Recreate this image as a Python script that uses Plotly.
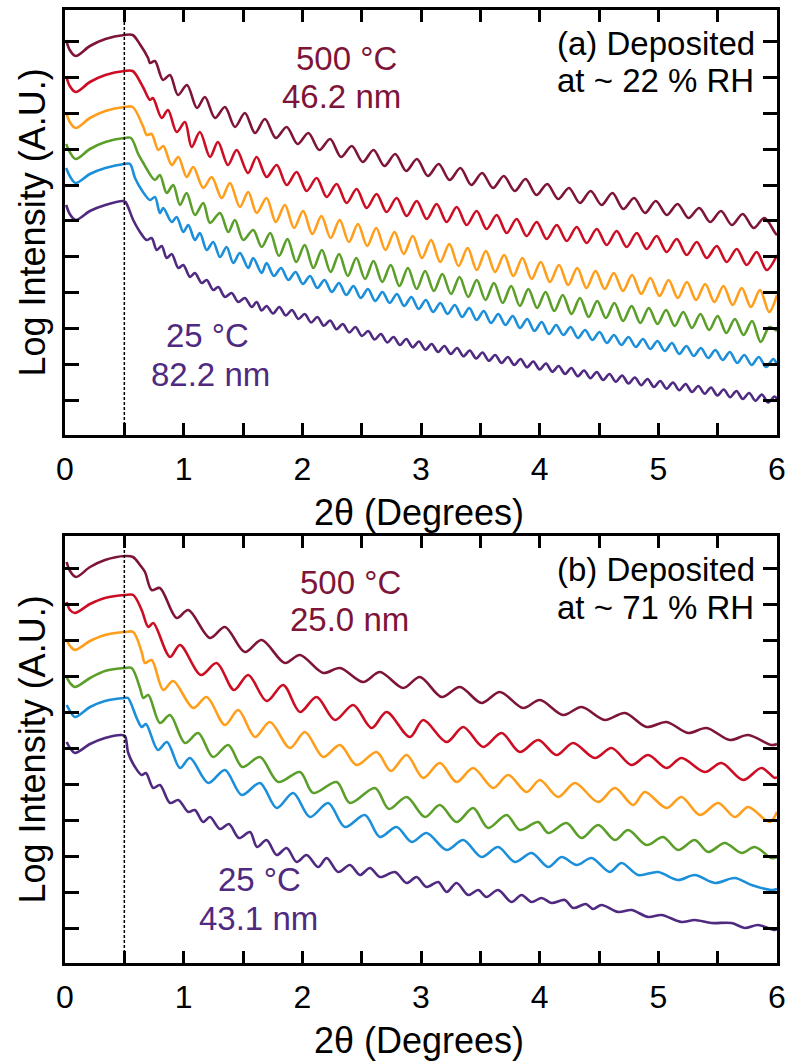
import plotly.graph_objects as go

# ---------------- colours ----------------
C_500 = "#7e1538"
C_400 = "#cc0d23"
C_300 = "#ff9e1b"
C_200 = "#5b9f2a"
C_100 = "#1b8fd9"
C_25 = "#4f2a80"
CURVE_COLORS = [C_500, C_400, C_300, C_200, C_100, C_25]

X_TICKS = [0, 1, 2, 3, 4, 5, 6]

# ---------------- panel (a): deposited at ~22 % RH ----------------
A_500 = [(0.01, 395), (0.04, 385), (0.09, 379), (0.21, 389), (0.34, 396), (0.50, 400), (0.57, 400), (0.63, 391),
         (0.70, 377), (0.716, 372), (0.758, 374), (0.826, 355), (0.885, 360), (0.952, 340), (1.028, 350),
         (1.112, 327), (1.179, 338), (1.264, 317), (1.348, 328), (1.432, 308), (1.516, 322), (1.601, 302),
         (1.685, 316), (1.777, 297), (1.868, 308), (1.960, 291), (2.051, 302), (2.143, 285), (2.234, 296),
         (2.326, 278), (2.417, 289), (2.509, 273), (2.600, 285), (2.692, 269), (2.783, 281), (2.875, 264),
         (2.966, 276), (3.058, 259), (3.149, 271), (3.241, 255), (3.332, 267), (3.424, 250), (3.515, 262),
         (3.607, 247), (3.698, 259), (3.790, 244), (3.881, 256), (3.973, 240), (4.064, 251), (4.156, 236),
         (4.247, 247), (4.339, 232), (4.430, 244), (4.522, 230), (4.613, 242), (4.705, 226), (4.796, 237),
         (4.888, 222), (4.979, 234), (5.071, 220), (5.162, 231), (5.254, 217), (5.345, 227), (5.437, 213),
         (5.528, 224), (5.620, 210), (5.711, 221), (5.803, 207), (5.894, 217), (5.985, 202), (6.0, 200)]

A_400 = [(0.01, 359), (0.04, 349), (0.09, 343), (0.21, 353), (0.34, 360), (0.50, 364), (0.57, 364), (0.657, 348),
         (0.716, 335), (0.741, 337), (0.815, 317), (0.868, 325), (0.941, 303), (1.011, 313), (1.067, 288),
         (1.137, 303), (1.222, 278), (1.289, 293), (1.373, 270), (1.447, 285), (1.542, 262), (1.615, 278),
         (1.699, 258), (1.784, 270), (1.868, 250), (1.952, 263), (2.036, 244), (2.121, 257), (2.205, 238),
         (2.289, 251), (2.373, 232), (2.458, 246), (2.542, 227), (2.626, 241), (2.710, 223), (2.795, 237),
         (2.879, 219), (2.964, 234), (3.048, 216), (3.132, 231), (3.216, 213), (3.301, 228), (3.385, 210),
         (3.469, 224), (3.553, 206), (3.638, 220), (3.722, 202), (3.806, 216), (3.890, 199), (3.975, 213),
         (4.059, 196), (4.144, 210), (4.228, 194), (4.312, 208), (4.396, 192), (4.481, 206), (4.565, 190),
         (4.649, 204), (4.733, 188), (4.818, 202), (4.902, 186), (4.986, 199), (5.070, 183), (5.155, 196),
         (5.239, 180), (5.324, 193), (5.408, 177), (5.492, 189), (5.576, 173), (5.661, 186), (5.745, 170),
         (5.829, 183), (5.913, 165), (6.0, 180)]

A_300 = [(0.01, 323), (0.04, 313), (0.09, 307), (0.21, 317), (0.34, 324), (0.50, 328), (0.57, 328), (0.660, 308),
         (0.688, 300), (0.730, 301), (0.786, 285), (0.828, 289), (0.899, 270), (0.955, 278), (1.025, 258),
         (1.081, 268), (1.165, 247), (1.236, 258), (1.320, 237), (1.390, 252), (1.474, 228), (1.544, 243),
         (1.615, 222), (1.699, 237), (1.776, 213), (1.853, 230), (1.930, 207), (2.007, 224), (2.084, 201),
         (2.161, 219), (2.238, 197), (2.315, 215), (2.392, 193), (2.469, 211), (2.546, 189), (2.623, 207),
         (2.700, 185), (2.777, 203), (2.854, 181), (2.931, 199), (3.008, 177), (3.085, 195), (3.162, 173),
         (3.239, 191), (3.316, 169), (3.393, 187), (3.470, 165), (3.547, 184), (3.624, 163), (3.701, 180),
         (3.778, 159), (3.855, 177), (3.932, 156), (4.009, 173), (4.086, 153), (4.163, 170), (4.240, 150),
         (4.317, 167), (4.394, 147), (4.471, 164), (4.548, 146), (4.625, 162), (4.702, 144), (4.779, 160),
         (4.856, 141), (4.933, 157), (5.010, 139), (5.087, 155), (5.164, 137), (5.241, 153), (5.318, 135),
         (5.395, 151), (5.472, 133), (5.549, 149), (5.626, 130), (5.703, 147), (5.780, 128), (5.857, 145),
         (5.934, 123), (6.0, 140)]

A_200 = [(0.01, 291), (0.04, 283), (0.09, 276), (0.21, 286), (0.34, 293), (0.50, 297), (0.556, 297), (0.617, 281),
         (0.660, 272), (0.758, 255), (0.800, 260), (0.857, 242), (0.912, 250), (0.969, 230), (1.025, 242),
         (1.095, 220), (1.165, 232), (1.222, 212), (1.306, 222), (1.376, 203), (1.432, 215), (1.502, 195),
         (1.586, 205), (1.657, 188), (1.730, 202), (1.803, 179), (1.875, 196), (1.948, 173), (2.020, 190),
         (2.093, 167), (2.165, 185), (2.238, 163), (2.310, 181), (2.383, 159), (2.455, 177), (2.528, 156),
         (2.600, 174), (2.673, 153), (2.745, 170), (2.818, 149), (2.890, 167), (2.963, 146), (3.035, 164),
         (3.108, 144), (3.180, 161), (3.253, 141), (3.325, 158), (3.398, 138), (3.470, 155), (3.543, 135),
         (3.615, 152), (3.688, 132), (3.760, 149), (3.833, 129), (3.905, 146), (3.978, 127), (4.050, 143),
         (4.123, 124), (4.195, 140), (4.268, 121), (4.340, 137), (4.413, 118), (4.485, 134), (4.558, 117),
         (4.630, 132), (4.703, 114), (4.775, 129), (4.848, 112), (4.920, 127), (4.993, 111), (5.065, 125),
         (5.138, 109), (5.210, 123), (5.283, 107), (5.355, 121), (5.428, 105), (5.500, 119), (5.573, 102),
         (5.645, 116), (5.718, 100), (5.790, 114), (5.863, 93), (5.935, 108), (6.0, 104)]

A_100 = [(0.01, 267), (0.04, 259), (0.09, 252), (0.21, 261), (0.34, 267), (0.50, 271), (0.548, 271), (0.590, 257),
         (0.646, 245), (0.716, 235), (0.758, 238), (0.800, 222), (0.828, 227), (0.899, 213), (0.941, 218),
         (0.997, 203), (1.039, 210), (1.095, 195), (1.137, 202), (1.194, 185), (1.249, 193), (1.306, 178),
         (1.362, 188), (1.418, 172), (1.474, 182), (1.544, 167), (1.586, 177), (1.657, 162), (1.699, 172),
         (1.760, 159), (1.821, 167), (1.882, 155), (1.943, 163), (2.004, 151), (2.065, 159), (2.126, 147),
         (2.187, 155), (2.248, 143), (2.309, 152), (2.370, 140), (2.431, 149), (2.492, 137), (2.553, 146),
         (2.614, 134), (2.675, 143), (2.736, 132), (2.797, 141), (2.858, 129), (2.919, 138), (2.980, 126),
         (3.041, 135), (3.102, 123), (3.163, 132), (3.224, 121), (3.285, 130), (3.346, 118), (3.407, 127),
         (3.468, 115), (3.529, 124), (3.590, 112), (3.651, 121), (3.712, 110), (3.773, 119), (3.834, 107),
         (3.895, 116), (3.956, 104), (4.017, 113), (4.078, 101), (4.139, 110), (4.200, 100), (4.261, 108),
         (4.322, 97), (4.383, 105), (4.444, 95), (4.505, 103), (4.566, 92), (4.627, 100), (4.688, 90),
         (4.749, 98), (4.810, 88), (4.871, 96), (4.932, 86), (4.993, 94), (5.054, 84), (5.115, 92),
         (5.176, 81), (5.237, 89), (5.298, 79), (5.359, 87), (5.420, 77), (5.481, 85), (5.542, 75),
         (5.603, 83), (5.664, 72), (5.725, 80), (5.786, 70), (5.847, 78), (5.908, 68), (5.969, 76), (6.0, 70)]

A_25 = [(0.01, 230), (0.04, 221), (0.09, 215), (0.21, 224), (0.34, 230), (0.49, 234), (0.51, 233), (0.575, 215),
        (0.632, 203), (0.688, 195), (0.730, 197), (0.773, 185), (0.815, 189), (0.857, 177), (0.899, 181),
        (0.955, 167), (0.997, 170), (1.053, 158), (1.095, 162), (1.152, 152), (1.194, 155), (1.249, 145),
        (1.292, 148), (1.348, 138), (1.404, 142), (1.460, 133), (1.516, 137), (1.573, 128), (1.615, 133),
        (1.657, 124.5), (1.699, 129), (1.753, 121.5), (1.806, 128), (1.860, 119.5), (1.913, 125), (1.967, 116),
        (2.020, 121), (2.074, 112.5), (2.127, 118), (2.181, 109.3), (2.234, 114.5), (2.288, 105.8),
        (2.341, 111), (2.395, 102.5), (2.448, 108), (2.502, 99), (2.555, 104), (2.609, 95.5), (2.662, 101),
        (2.716, 92.5), (2.769, 98), (2.823, 90), (2.876, 96), (2.930, 87.8), (2.983, 93.5), (3.037, 85.3),
        (3.090, 91), (3.144, 83), (3.197, 89), (3.251, 81), (3.304, 87), (3.358, 78.8), (3.411, 84.5),
        (3.465, 76.5), (3.518, 82.5), (3.572, 74.3), (3.625, 80), (3.679, 72), (3.732, 78), (3.786, 70),
        (3.839, 76), (3.893, 67.8), (3.946, 73.5), (4.000, 65.5), (4.053, 71.5), (4.107, 63.3), (4.160, 69),
        (4.214, 61), (4.267, 67), (4.321, 58.8), (4.374, 64.5), (4.428, 56.8), (4.481, 63), (4.535, 55),
        (4.588, 61), (4.642, 53.3), (4.695, 59.5), (4.749, 51.5), (4.802, 57.5), (4.856, 49.8), (4.909, 56),
        (4.963, 48), (5.016, 54), (5.070, 46.3), (5.123, 52.5), (5.177, 44.8), (5.230, 51), (5.284, 43),
        (5.337, 49), (5.391, 41.3), (5.444, 47.5), (5.498, 39.5), (5.551, 45.5), (5.605, 37.8), (5.658, 44),
        (5.712, 36), (5.765, 42), (5.819, 34.3), (5.872, 40.5), (5.926, 32.5), (5.979, 38.5), (6.0, 36)]

# ---------------- panel (b): deposited at ~71 % RH ----------------
B_500 = [(0.014, 401), (0.042, 392), (0.093, 386), (0.211, 396), (0.337, 403), (0.505, 407), (0.573, 406),
         (0.632, 398), (0.674, 391), (0.730, 373), (0.800, 375), (0.941, 345), (1.039, 353), (1.222, 325),
         (1.348, 336), (1.516, 311), (1.657, 323), (1.853, 300), (1.980, 308), (2.176, 290), (2.317, 295),
         (2.513, 281), (2.654, 291), (2.850, 275), (2.991, 286), (3.174, 266), (3.328, 276), (3.510, 260),
         (3.665, 271), (3.861, 255), (4.002, 263), (4.198, 248), (4.353, 256), (4.549, 243), (4.718, 250),
         (4.901, 236), (5.069, 241), (5.251, 230), (5.406, 235), (5.603, 223), (5.757, 228), (5.954, 218),
         (6.0, 219)]

B_400 = [(0.014, 361), (0.042, 353), (0.084, 350), (0.211, 359), (0.337, 365), (0.505, 368), (0.575, 368),
         (0.646, 353), (0.702, 336), (0.744, 340), (0.885, 306), (0.969, 318), (1.146, 288), (1.278, 300),
         (1.424, 273), (1.544, 288), (1.699, 262), (1.839, 278), (1.980, 251), (2.120, 266), (2.275, 243),
         (2.429, 258), (2.584, 235), (2.710, 251), (2.906, 226), (3.019, 243), (3.216, 221), (3.356, 236),
         (3.524, 216), (3.679, 230), (3.833, 211), (3.988, 223), (4.142, 208), (4.282, 220), (4.465, 205),
         (4.606, 215), (4.774, 198), (4.914, 208), (5.069, 195), (5.195, 205), (5.392, 191), (5.532, 200),
         (5.714, 183), (5.869, 195), (5.981, 185), (6.0, 186)]

B_300 = [(0.014, 323), (0.042, 317), (0.084, 313), (0.211, 322), (0.337, 328), (0.505, 331), (0.575, 331),
         (0.646, 311), (0.674, 300), (0.730, 303), (0.828, 273), (0.912, 282), (1.081, 255), (1.194, 266),
         (1.348, 238), (1.460, 253), (1.601, 226), (1.727, 241), (1.896, 215), (2.022, 231), (2.176, 206),
         (2.317, 218), (2.457, 198), (2.626, 211), (2.746, 192), (2.879, 208), (3.019, 185), (3.159, 200),
         (3.300, 181), (3.440, 195), (3.608, 175), (3.735, 188), (3.890, 171), (4.002, 183), (4.156, 166),
         (4.297, 180), (4.493, 161), (4.634, 175), (4.788, 158), (4.886, 171), (5.069, 155), (5.195, 166),
         (5.350, 148), (5.504, 160), (5.645, 146), (5.757, 156), (5.939, 141), (6.0, 151)]

B_200 = [(0.014, 286), (0.042, 280), (0.084, 276), (0.211, 285), (0.337, 292), (0.505, 295), (0.562, 295),
         (0.632, 275), (0.660, 265), (0.702, 268), (0.800, 240), (0.885, 248), (1.011, 220), (1.123, 230),
         (1.247, 206), (1.376, 218), (1.495, 196), (1.643, 206), (1.797, 181), (1.980, 191), (2.092, 170),
         (2.289, 181), (2.401, 160), (2.612, 175), (2.730, 154), (2.879, 166), (3.033, 146), (3.159, 158),
         (3.300, 141), (3.440, 155), (3.566, 135), (3.721, 148), (3.833, 133), (3.987, 141), (4.072, 130),
         (4.227, 140), (4.353, 125), (4.493, 138), (4.634, 123), (4.746, 133), (4.901, 118), (5.040, 126),
         (5.167, 113), (5.307, 123), (5.420, 111), (5.560, 120), (5.701, 110), (5.813, 116), (5.954, 105),
         (6.0, 106)]

B_100 = [(0.014, 258), (0.042, 252), (0.084, 246), (0.211, 256), (0.337, 262), (0.505, 265), (0.531, 265),
         (0.604, 245), (0.646, 236), (0.682, 239), (0.783, 213), (0.859, 221), (0.969, 195), (1.053, 205),
         (1.207, 180), (1.348, 193), (1.489, 168), (1.643, 180), (1.784, 155), (1.923, 170), (2.064, 146),
         (2.218, 160), (2.359, 136), (2.527, 148), (2.654, 126), (2.794, 136), (2.921, 121), (3.047, 130),
         (3.216, 113), (3.356, 123), (3.510, 106), (3.650, 116), (3.791, 101), (3.932, 110), (4.072, 96),
         (4.184, 106), (4.313, 98), (4.437, 105), (4.591, 91), (4.690, 100), (4.830, 88), (4.998, 91),
         (5.167, 83), (5.307, 88), (5.476, 80), (5.644, 85), (5.785, 78), (5.954, 73), (6.0, 74)]

B_25 = [(0.014, 221), (0.042, 215), (0.084, 210), (0.211, 219), (0.337, 225), (0.472, 228), (0.505, 227),
        (0.533, 210), (0.590, 196), (0.646, 188), (0.682, 190), (0.744, 175), (0.800, 178), (0.885, 160),
        (0.955, 163), (1.039, 151), (1.095, 153), (1.163, 141), (1.222, 146), (1.306, 134), (1.382, 139),
        (1.466, 125), (1.559, 131), (1.618, 116), (1.699, 123), (1.784, 108), (1.868, 115), (1.952, 101),
        (2.036, 108), (2.134, 96), (2.205, 105), (2.302, 91), (2.401, 98), (2.485, 88), (2.570, 95),
        (2.654, 86), (2.780, 91), (2.879, 80), (2.963, 86), (3.047, 76), (3.145, 81), (3.216, 71),
        (3.300, 80), (3.398, 68), (3.482, 73), (3.552, 66), (3.650, 73), (3.763, 61), (3.847, 68),
        (3.932, 61), (4.016, 65), (4.100, 60), (4.212, 63), (4.282, 55), (4.390, 59), (4.450, 54),
        (4.521, 58), (4.661, 51), (4.774, 53), (4.914, 46), (5.027, 48), (5.195, 41), (5.307, 43),
        (5.448, 40), (5.617, 40), (5.729, 35), (5.841, 38), (5.981, 33), (6.0, 34)]

PANEL_A = [A_500, A_400, A_300, A_200, A_100, A_25]
PANEL_B = [B_500, B_400, B_300, B_200, B_100, B_25]
CURVE_NAMES = ["500 °C", "400 °C", "300 °C", "200 °C", "100 °C", "25 °C"]

FONT = "Liberation Sans, Arial, sans-serif"

fig = go.Figure()
for panel, (xa, ya) in ((PANEL_A, ("x", "y")), (PANEL_B, ("x2", "y2"))):
    for curve, col, name in zip(panel, CURVE_COLORS, CURVE_NAMES):
        xs = [p[0] for p in curve]
        ys = [p[1] for p in curve]
        fig.add_trace(go.Scatter(x=xs, y=ys, mode="lines", name=name, xaxis=xa, yaxis=ya,
                                 line=dict(color=col, width=2.6, shape="spline", smoothing=0.9),
                                 showlegend=False, hoverinfo="skip"))

W, H = 787, 1061
XL, XR = 65, 777
A_TOP, A_BOT = 10, 435
B_TOP, B_BOT = 536, 963

xdom = [XL / W, XR / W]
common_x = dict(range=[0, 6], tickmode="array", tickvals=X_TICKS, ticktext=[str(t) for t in X_TICKS],
                ticks="inside", ticklen=12, tickwidth=2.5, tickcolor="black",
                minor=dict(dtick=0.5, tick0=0, ticks="inside", ticklen=12, tickwidth=2.5, tickcolor="black"),
                showline=True, linewidth=3, linecolor="black", mirror="ticks",
                showgrid=False, zeroline=False, tickfont=dict(family=FONT, size=32, color="black"),
                ticklabelstandoff=4, automargin=False, domain=xdom)
common_y = dict(ticks="inside", ticklen=14, tickwidth=2.5, tickcolor="black", showticklabels=False,
                showline=True, linewidth=3, linecolor="black", mirror="ticks",
                showgrid=False, zeroline=False, automargin=False)

fig.update_layout(
    width=W, height=H, margin=dict(l=0, r=0, t=0, b=0, autoexpand=False),
    paper_bgcolor="white", plot_bgcolor="white",
    xaxis=dict(**common_x, anchor="y"),
    xaxis2=dict(**common_x, anchor="y2"),
    yaxis=dict(**common_y, anchor="x", range=[0, A_BOT - A_TOP], tick0=35.0, dtick=35.83,
               domain=[(H - A_BOT) / H, (H - A_TOP) / H]),
    yaxis2=dict(**common_y, anchor="x2", range=[0, B_BOT - B_TOP], tick0=34.7, dtick=36.0,
                domain=[(H - B_BOT) / H, (H - B_TOP) / H]),
)

# dashed marker at 2θ = 0.5
for xr, yr in (("x", "y domain"), ("x2", "y2 domain")):
    fig.add_shape(type="line", xref=xr, yref=yr, x0=0.5, x1=0.5, y0=0, y1=1,
                  line=dict(color="black", width=1.5, dash="3px,2px"))

ann = []
def txt(text, x, y, xr, yr, color="black", size=33, xanchor="center"):
    ann.append(dict(text=text, x=x, y=y, xref=xr, yref=yr, showarrow=False, xanchor=xanchor,
                    yanchor="middle", font=dict(family=FONT, size=size, color=color)))

# panel a labels
txt("500 °C", 2.37, 376, "x", "y", C_500)
txt("46.2 nm", 2.33, 338, "x", "y", C_500)
txt("25 °C", 1.20, 99, "x", "y", C_25)
txt("82.2 nm", 1.23, 60, "x", "y", C_25)
txt("(a) Deposited", 4.128, 391, "x", "y", xanchor="left")
txt("at ~ 22 % RH", 4.128, 354, "x", "y", xanchor="left")
# panel b labels
txt("500 °C", 2.41, 380, "x2", "y2", C_500)
txt("25.0 nm", 2.40, 343, "x2", "y2", C_500)
txt("25 °C", 1.64, 83, "x2", "y2", C_25)
txt("43.1 nm", 1.63, 44, "x2", "y2", C_25)
txt("(b) Deposited", 4.128, 393, "x2", "y2", xanchor="left")
txt("at ~ 71 % RH", 4.128, 355, "x2", "y2", xanchor="left")

# axis titles
for yc in ((A_TOP + A_BOT) / 2, (B_TOP + B_BOT) / 2):
    ann.append(dict(text="Log Intensity (A.U.)", x=32 / W, y=(H - yc) / H, xref="paper", yref="paper",
                    showarrow=False, textangle=-90, xanchor="center", yanchor="middle",
                    font=dict(family=FONT, size=36, color="black")))
for yc in (512, 1040):
    ann.append(dict(text="2θ (Degrees)", x=419 / W, y=(H - yc) / H, xref="paper", yref="paper",
                    showarrow=False, xanchor="center", yanchor="middle",
                    font=dict(family=FONT, size=36, color="black")))

fig.update_layout(annotations=ann)
fig.write_html("out.html")
